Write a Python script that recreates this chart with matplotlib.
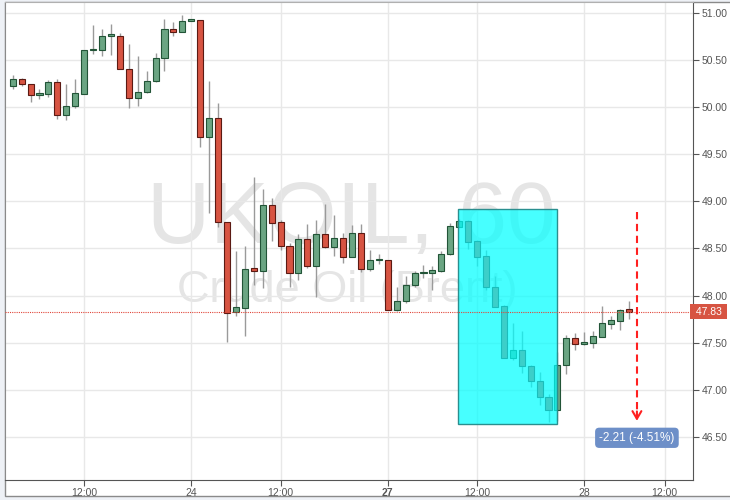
import matplotlib.pyplot as plt
import matplotlib.patches as patches
from matplotlib.transforms import blended_transform_factory

# hourly UKOIL candles
opens = [50.23, 50.30, 50.25, 50.13, 50.14, 50.27, 49.92, 50.01, 50.14, 50.61,
         50.61, 50.76, 50.76, 50.41, 50.10, 50.16, 50.28, 50.52, 50.83, 50.80,
         50.92, 50.93, 49.68, 49.89, 48.78, 47.83, 47.87, 48.29, 48.26, 48.96,
         48.78, 48.53, 48.24, 48.60, 48.31, 48.65, 48.52, 48.61, 48.41, 48.66,
         48.28, 48.38, 48.38, 47.85, 47.94, 48.11, 48.24, 48.24, 48.26, 48.44,
         48.73, 48.79, 48.58, 48.42, 48.09, 47.89, 47.34, 47.42, 47.25, 47.09,
         46.92, 46.78, 47.26, 47.55, 47.49, 47.50, 47.56, 47.70, 47.73, 47.86]
highs = [50.34, 50.31, 50.25, 50.19, 50.29, 50.30, 50.25, 50.30, 50.61, 50.87,
         50.83, 50.88, 50.79, 50.67, 50.54, 50.38, 50.58, 50.94, 50.90, 50.98,
         50.94, 50.93, 50.28, 50.04, 48.78, 48.47, 48.53, 49.26, 49.13, 49.04,
         48.80, 48.56, 48.65, 48.76, 48.80, 48.97, 48.86, 48.66, 48.75, 48.76,
         48.48, 48.44, 48.38, 48.09, 48.21, 48.26, 48.32, 48.31, 48.47, 48.77,
         48.81, 48.80, 48.59, 48.48, 48.21, 47.90, 47.71, 47.62, 47.26, 47.19,
         46.96, 47.40, 47.58, 47.60, 47.61, 47.62, 47.89, 47.78, 47.86, 47.94]
lows = [50.19, 50.22, 50.06, 50.09, 50.11, 49.87, 49.86, 49.99, 50.14, 50.57,
        50.54, 50.55, 50.41, 49.99, 50.01, 50.15, 50.27, 50.38, 50.76, 50.80,
        50.92, 49.58, 48.88, 48.73, 47.51, 47.78, 47.57, 48.11, 48.08, 48.58,
        48.48, 48.09, 48.17, 48.29, 47.99, 48.51, 48.42, 48.35, 48.41, 48.25,
        48.26, 48.33, 47.85, 47.84, 47.92, 48.09, 48.19, 48.06, 48.25, 48.43,
        48.73, 48.49, 48.31, 48.06, 47.88, 47.34, 47.32, 47.18, 47.03, 46.84,
        46.66, 46.67, 47.17, 47.42, 47.48, 47.44, 47.56, 47.64, 47.63, 47.75]
closes = [50.30, 50.25, 50.13, 50.15, 50.27, 49.92, 50.01, 50.15, 50.61, 50.61,
          50.76, 50.76, 50.41, 50.10, 50.16, 50.28, 50.52, 50.83, 50.80, 50.92,
          50.93, 49.68, 49.89, 48.78, 47.82, 47.88, 48.28, 48.26, 48.96, 48.77,
          48.53, 48.24, 48.60, 48.31, 48.65, 48.52, 48.61, 48.41, 48.66, 48.28,
          48.38, 48.38, 47.85, 47.94, 48.11, 48.24, 48.24, 48.27, 48.44, 48.74,
          48.79, 48.57, 48.41, 48.09, 47.88, 47.34, 47.42, 47.25, 47.09, 46.92,
          46.78, 47.26, 47.55, 47.49, 47.50, 47.57, 47.71, 47.74, 47.85, 47.83]

tick_positions = [8, 20, 30, 42, 52, 64, 73]
tick_labels = ["12:00", "24", "12:00", "27", "12:00", "28", "12:00"]
price_ticks = [46.5, 47.0, 47.5, 48.0, 48.5, 49.0, 49.5, 50.0, 50.5, 51.0]

last_price = 47.83
box_start, box_end = 49.9, 60.9
box_top, box_bottom = 48.92, 46.64
measure_x = 69.9
measure_top, measure_bottom = 48.89, 46.67
measure_text = "-2.21 (-4.51%)"

up_fill, up_edge = "#6ba583", "#225437"
down_fill, down_edge = "#d75442", "#5b1a13"

plt.rcParams["font.family"] = ["Liberation Sans", "DejaVu Sans"]

fig = plt.figure(figsize=(7.3, 5.0), dpi=100, facecolor="#eef1f6")
# white chart card with thin border, kept behind the axes
card = patches.Rectangle((5 / 730, 4 / 500), 730 / 730, 494 / 500,
                         transform=fig.transFigure, facecolor="white",
                         edgecolor="#8a8a8a", linewidth=1.0, zorder=-10)
fig.patches.append(card)

ax = fig.add_axes([5 / 730, 20 / 500, 688 / 730, 478 / 500])
ax.set_zorder(1)
ax.set_facecolor("white")
ax.set_xlim(-0.86, 76.18)
ax.set_ylim(46.042, 51.117)

ax.set_xticks(tick_positions)
ax.set_xticklabels(tick_labels)
for lbl in ax.get_xticklabels():
    if lbl.get_text() == "27":
        lbl.set_fontweight("bold")
ax.set_yticks(price_ticks)
ax.set_yticklabels([f"{p:.2f}" for p in price_ticks])
ax.yaxis.tick_right()
ax.tick_params(axis="both", colors="#555555", labelsize=7.5, length=4, width=0.8)
ax.tick_params(axis="x", pad=1.5)
ax.tick_params(axis="y", pad=2.5)

ax.grid(True, color="#e8e8e8", linewidth=1.0, zorder=0)
ax.set_axisbelow(True)
ax.spines["right"].set_color("#555555")
ax.spines["bottom"].set_color("#555555")
ax.spines["left"].set_color("#8a8a8a")
ax.spines["top"].set_color("#b0b0b0")

# watermark
ax.text(0.503, 0.496, "UKOIL, 60", transform=ax.transAxes, ha="center",
        va="baseline", fontsize=63, color="#e5e5e5", zorder=0.5)
ax.text(0.498, 0.372, "Crude Oil (Brent)", transform=ax.transAxes, ha="center",
        va="baseline", fontsize=32.5, color="#e5e5e5", zorder=0.5)

# candles
for i, (o, h, l, c) in enumerate(zip(opens, highs, lows, closes)):
    up = c >= o
    fill, edge = (up_fill, up_edge) if up else (down_fill, down_edge)
    ax.vlines(i, l, h, color="#9a9a9a", linewidth=1.0, zorder=2)
    body = max(abs(c - o), 0.012)
    ax.bar(i, body, bottom=min(o, c), width=0.68, color=fill,
           edgecolor=edge, linewidth=0.8, zorder=3)

# highlighted rectangle
ax.add_patch(patches.Rectangle((box_start, box_bottom), box_end - box_start,
                               box_top - box_bottom, facecolor="#00ffff",
                               alpha=0.72, edgecolor="none", zorder=4))
ax.add_patch(patches.Rectangle((box_start, box_bottom), box_end - box_start,
                               box_top - box_bottom, fill=False,
                               edgecolor="#2a8f8f", linewidth=1.0, zorder=4))

# last price line and label
ax.axhline(last_price, color="#e0473a", linewidth=0.8, linestyle=(0, (1, 1)),
           zorder=5)
trans = blended_transform_factory(ax.transAxes, ax.transData)
ax.text(1.0, last_price, f" {last_price:.2f} ", transform=trans, ha="left",
        va="center", fontsize=7.5, color="white", clip_on=False, zorder=6,
        bbox=dict(boxstyle="square,pad=0.25", facecolor="#d75442",
                  edgecolor="none"))

# measurement arrow
ax.plot([measure_x, measure_x], [measure_top, measure_bottom + 0.05],
        color="#ff2020", linewidth=1.5, linestyle=(0, (3.5, 2.2)), zorder=5)
ax.annotate("", xy=(measure_x, measure_bottom),
            xytext=(measure_x, measure_bottom + 0.1),
            arrowprops=dict(arrowstyle="->,head_width=0.32,head_length=0.55",
                            color="#ff2020", linewidth=1.5,
                            shrinkA=0, shrinkB=0), zorder=5)
ax.text(measure_x, measure_bottom - 0.18, measure_text, ha="center",
        va="center", fontsize=8.5, color="white", zorder=6,
        bbox=dict(boxstyle="round,pad=0.35,rounding_size=0.35",
                  facecolor="#6d8fc8", edgecolor="none"))

fig.savefig("out.png", dpi=100, facecolor=fig.get_facecolor())
